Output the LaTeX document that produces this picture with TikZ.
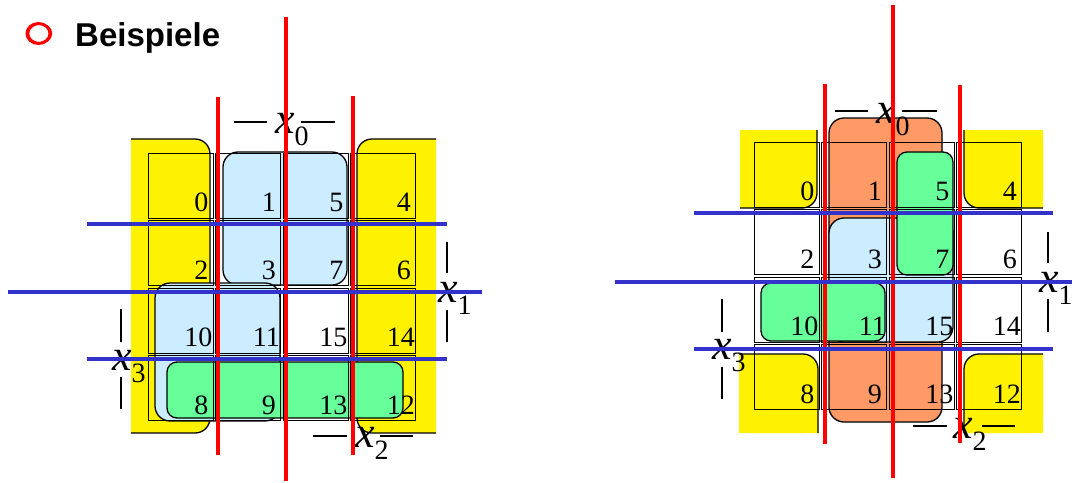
\documentclass[tikz,border=0pt]{standalone}
\usepackage{fontspec}
\setmainfont{Liberation Serif}
\newfontfamily\headfont{Liberation Sans}
\usepackage{tikz}
\usetikzlibrary{positioning}
\definecolor{kblue}{RGB}{204,236,255}
\definecolor{kgreen}{RGB}{102,255,153}
\definecolor{korange}{RGB}{255,153,102}
\definecolor{kline}{RGB}{51,51,204}
\newcommand{\kvar}[1]{{\fontsize{44}{44}\selectfont\itshape x}\raisebox{-12pt}{\fontsize{28}{28}\selectfont #1}}

\begin{document}
\begin{tikzpicture}[x=1pt,y=-1pt,
  cell/.style={draw,line width=1.3pt},
  grp/.style={draw,line width=1.3pt,rounded corners=15},
  edge/.style={line width=1.3pt,rounded corners=15},
  rline/.style={red,line width=4pt},
  bline/.style={kline,line width=3.5pt},
  num/.style={anchor=base east,inner sep=0,font=\fontsize{28}{28}\selectfont},
  lab/.style={anchor=base west,inner sep=0},
  bar/.style={line width=1.3pt}]
  \useasboundingbox (0,0) rectangle (1075,482);

  % title
  \draw[red,line width=3pt] (38.5,33.5) ellipse [x radius=11.5,y radius=10];
  \draw[red,line width=1.5pt] (40,33.5) ellipse [x radius=11.5,y radius=9.5];
  \node[anchor=base west,inner sep=0,font=\headfont\bfseries\fontsize{33}{33}\selectfont] (title) at (75,46) {Beispiele};

  % left map: yellow
  \fill[yellow,rounded corners=15] (131,139) -- (210,139) -- (210,433) -- (131,433);
  \draw[edge] (131,139) -- (210,139) -- (210,433) -- (131,433);
  \fill[yellow,rounded corners=15] (436,139) -- (357,139) -- (357,433) -- (436,433);
  \draw[edge] (436,139) -- (357,139) -- (357,433) -- (436,433);

  % right map: yellow corners
  \fill[yellow,rounded corners=15] (740,130) rectangle (817,208);
  \fill[yellow] (740,130) rectangle (790,208) (740,130) rectangle (817,180);
  \draw[edge] (817,130) -- (817,208) -- (740,208);
  \fill[yellow,rounded corners=15] (964,130) rectangle (1043,208);
  \fill[yellow] (990,130) rectangle (1043,208) (964,130) rectangle (1043,180);
  \draw[edge] (964,130) -- (964,208) -- (1043,208);
  \fill[yellow,rounded corners=15] (739,354) rectangle (818,433);
  \fill[yellow] (739,354) rectangle (790,433) (739,380) rectangle (818,433);
  \draw[edge] (739,354) -- (818,354) -- (818,433);
  \fill[yellow,rounded corners=15] (964,354) rectangle (1043,433);
  \fill[yellow] (990,354) rectangle (1043,433) (964,380) rectangle (1043,433);
  \draw[edge] (1043,354) -- (964,354) -- (964,433);

  % groups
  \draw[grp,fill=kblue] (223,152) rectangle (347,285);
  \draw[grp,fill=kblue] (155,283) rectangle (280,421);
  \draw[grp,fill=kgreen,rounded corners=10] (167,362) rectangle (403,418);
  \draw[grp,fill=korange] (829,118) rectangle (942,422);
  \draw[grp,fill=kblue] (829,218) rectangle (953,342);
  \draw[grp,fill=kgreen,rounded corners=10] (897,152) rectangle (953,275);
  \draw[grp,fill=kgreen,rounded corners=10] (761,283) rectangle (885,341);

  % cells and numbers
  \foreach \gx/\gy/\s in {147/152/l,753/141/r} {
    \foreach \n [count=\i from 0] in {0,1,5,4,2,3,7,6,10,11,15,14,8,9,13,12} {
      \pgfmathtruncatemacro\c{mod(\i,4)}
      \pgfmathtruncatemacro\r{div(\i,4)}
      \pgfmathsetmacro\dx{\n<10 ? 6 : 2}
      \draw[cell] ({\gx+\c*67.5+1.2},{\gy+\r*67.5+1.2}) rectangle ++(65.1,65.1);
      \node[num] (\s\n) at ({\gx+(\c+1)*67.5-\dx},{\gy+(\r+1)*67.5-8}) {\n};
    }
  }

  % variable labels
  \node[lab] (lx0) at (275,133) {\kvar{0}};
  \node[lab] (lx1) at (438,302) {\kvar{1}};
  \node[lab] (lx3) at (112,370) {\kvar{3}};
  \node[lab] (lx2) at (355,447) {\kvar{2}};
  \node[lab] (rx0) at (876,123) {\kvar{0}};
  \node[lab] (rx1) at (1039,292) {\kvar{1}};
  \node[lab] (rx3) at (712,359) {\kvar{3}};
  \node[lab] (rx2) at (953,438) {\kvar{2}};

  \draw[bar] (234,122) -- (267,122) (301,122) -- (335,122);
  \draw[bar] (447,242) -- (447,273) (447,310) -- (447,342);
  \draw[bar] (121,309) -- (121,342) (121,377) -- (121,409);
  \draw[bar] (313,436) -- (347,436) (380,436) -- (413,436);
  \draw[bar] (835,111) -- (868,111) (902,111) -- (937,111);
  \draw[bar] (1048,232) -- (1048,263) (1048,299) -- (1048,332);
  \draw[bar] (722,299) -- (722,332) (722,367) -- (722,399);
  \draw[bar] (913,426) -- (947,426) (982,426) -- (1015,426);

  % cut lines
  \draw[rline] (218,97) -- (218,455);
  \draw[rline] (286,17) -- (286,481);
  \draw[rline] (353,96) -- (353,455);
  \draw[rline] (825,84) -- (825,444);
  \draw[rline] (893,5) -- (893,478);
  \draw[rline] (960,85) -- (960,443);
  \draw[bline] (87,224) -- (447,224);
  \draw[bline] (8,292) -- (482,292);
  \draw[bline] (87,359) -- (447,359);
  \draw[bline] (694,213) -- (1053,213);
  \draw[bline] (615,282) -- (1072,282);
  \draw[bline] (694,349) -- (1053,349);
\end{tikzpicture}
\end{document}
